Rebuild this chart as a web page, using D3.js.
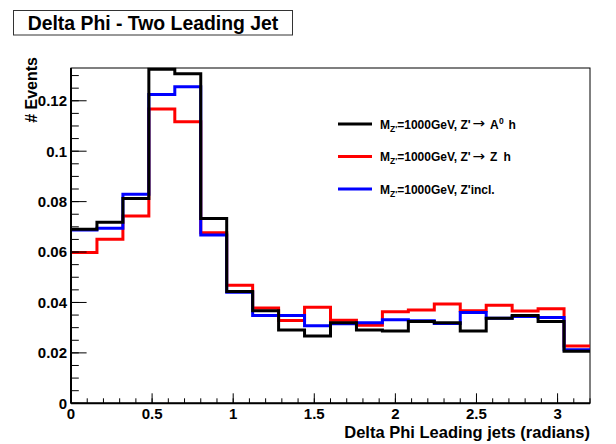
<!DOCTYPE html>
<html><head><meta charset="utf-8">
<script src="https://cdn.jsdelivr.net/npm/d3@7"></script>
<style>
html,body{margin:0;padding:0;background:#fff;}
svg{display:block;font-family:"Liberation Sans",Arial,Helvetica,sans-serif;font-weight:bold;}
</style></head>
<body>
<script>
// ---- data ----
const xMin = 0, xMax = 3.2, nBins = 20;
const blackA0h = [0.0690,0.0718,0.0812,0.1325,0.1307,0.0733,0.0443,0.0367,0.0291,0.0267,
                  0.0320,0.0291,0.0287,0.0324,0.0320,0.0287,0.0337,0.0348,0.0324,0.0206];
const redZh    = [0.0598,0.0651,0.0743,0.1167,0.1117,0.0677,0.0468,0.0378,0.0328,0.0381,
                  0.0329,0.0310,0.0363,0.0370,0.0394,0.0367,0.0389,0.0366,0.0375,0.0227];
const blueIncl = [0.0687,0.0694,0.0829,0.1225,0.1256,0.0668,0.0440,0.0348,0.0348,0.0308,
                  0.0316,0.0320,0.0331,0.0327,0.0317,0.0360,0.0337,0.0344,0.0340,0.0212];
const xTickValues = [0, 0.5, 1, 1.5, 2, 2.5, 3];
const xTickLabels = ["0", "0.5", "1", "1.5", "2", "2.5", "3"];
const yTickValues = [0, 0.02, 0.04, 0.06, 0.08, 0.10, 0.12];
const yTickLabels = ["0", "0.02", "0.04", "0.06", "0.08", "0.1", "0.12"];
const yMax = 0.1330;
const titleText = "Delta Phi - Two Leading Jet";
const xTitle = "Delta Phi Leading jets (radians)";
const yTitle = "# Events";

// ---- layout ----
const W = 616, H = 444;
const L = 71, R = 590, T = 68, B = 403.3;
const svg = d3.select("body").append("svg").attr("width", W).attr("height", H);
svg.append("rect").attr("width", W).attr("height", H).attr("fill", "#fff");

const x = d3.scaleLinear().domain([xMin, xMax]).range([L, R]);
const y = d3.scaleLinear().domain([0, yMax]).range([B, T]);

// title box
svg.append("rect").attr("x", 13.5).attr("y", 10.5).attr("width", 279).attr("height", 24.5)
  .attr("fill", "#fff").attr("stroke", "#333").attr("stroke-width", 1);
svg.append("text").attr("x", 153).attr("y", 29.5).attr("text-anchor", "middle")
  .attr("font-size", 19.4).text(titleText);

// frame
svg.append("rect").attr("x", L).attr("y", T).attr("width", R - L).attr("height", B - T)
  .attr("fill", "none").attr("stroke", "#000").attr("stroke-width", 1);

// histograms
const bw = (xMax - xMin) / nBins;
function stepPts(vals) {
  const pts = [];
  vals.forEach((v, i) => { pts.push([xMin + i * bw, v]); pts.push([xMin + (i + 1) * bw, v]); });
  return pts;
}
const line = d3.line().x(d => x(d[0])).y(d => y(d[1]));
const series = [
  {vals: redZh, color: "#ff0000"},
  {vals: blueIncl, color: "#0000ff"},
  {vals: blackA0h, color: "#000000"}
];
series.forEach(s => {
  svg.append("path").attr("d", line(stepPts(s.vals))).attr("fill", "none")
    .attr("stroke", s.color).attr("stroke-width", 3).attr("stroke-linejoin", "miter");
});

// axes
const gx = svg.append("g").attr("transform", `translate(0,${B})`);
gx.append("line").attr("x1", L).attr("x2", R).attr("stroke", "#000").attr("stroke-width", 2);
const xMinor = d3.range(0, 33).map(i => i * 0.1).filter(v => v <= xMax + 1e-9);
gx.selectAll(".xm").data(xMinor).enter().append("line")
  .attr("x1", d => x(d)).attr("x2", d => x(d)).attr("y1", 0).attr("y2", -5)
  .attr("stroke", "#000").attr("stroke-width", 1);
gx.selectAll(".xM").data(xTickValues).enter().append("line")
  .attr("x1", d => x(d)).attr("x2", d => x(d)).attr("y1", 0).attr("y2", -10)
  .attr("stroke", "#000").attr("stroke-width", 1);
gx.selectAll(".xl").data(xTickValues).enter().append("text")
  .attr("x", d => x(d)).attr("y", 16).attr("text-anchor", "middle").attr("font-size", 15)
  .text((d, i) => xTickLabels[i]);

const gy = svg.append("g").attr("transform", `translate(${L},0)`);
gy.append("line").attr("y1", T).attr("y2", B).attr("stroke", "#000").attr("stroke-width", 2);
const yMinor = d3.range(0, 27).map(i => i * 0.005).filter(v => v <= yMax);
gy.selectAll(".ym").data(yMinor).enter().append("line")
  .attr("y1", d => y(d)).attr("y2", d => y(d)).attr("x1", 0).attr("x2", 7.8)
  .attr("stroke", "#000").attr("stroke-width", 1);
gy.selectAll(".yM").data(yTickValues).enter().append("line")
  .attr("y1", d => y(d)).attr("y2", d => y(d)).attr("x1", 0).attr("x2", 15.6)
  .attr("stroke", "#000").attr("stroke-width", 1);
gy.selectAll(".yl").data(yTickValues).enter().append("text")
  .attr("x", -4).attr("y", d => y(d)).attr("dy", "0.36em").attr("text-anchor", "end")
  .attr("font-size", 15).text((d, i) => yTickLabels[i]);

// axis titles
svg.append("text").attr("x", R).attr("y", 438).attr("text-anchor", "end")
  .attr("font-size", 16.5).text(xTitle);
svg.append("text").attr("transform", `translate(37,57) rotate(-90)`).attr("text-anchor", "end")
  .attr("font-size", 16).text(yTitle);

// legend
const legendColors = ["#000000", "#ff0000", "#0000ff"];
const legendDecay = ["A", "Z", null];
const legendSup = ["0", null, null];
const legY = [124, 156.5, 189];
legendColors.forEach((c, i) => {
  const ly = legY[i];
  svg.append("line").attr("x1", 338).attr("x2", 372).attr("y1", ly).attr("y2", ly)
    .attr("stroke", c).attr("stroke-width", 3);
  const g = svg.append("g").attr("font-size", 12);
  const t = g.append("text").attr("x", 380).attr("y", ly + 4.5);
  t.append("tspan").text("M");
  t.append("tspan").attr("font-size", 8.5).attr("dy", 3).text("Z'");
  if (legendDecay[i] === null) {
    t.append("tspan").attr("dy", -3).text("=1000GeV, Z'incl.");
    return;
  }
  t.append("tspan").attr("dy", -3).text("=1000GeV, Z'");
  // arrow
  g.append("text").attr("x", 472.5).attr("y", ly + 4).attr("font-family", "DejaVu Sans")
    .attr("font-weight", "normal").attr("font-size", 14).attr("textLength", 12.6)
    .attr("lengthAdjust", "spacingAndGlyphs").text("\u2192");
  if (legendSup[i]) {
    g.append("text").attr("x", 490).attr("y", ly + 4.5).text(legendDecay[i]);
    g.append("text").attr("x", 499).attr("y", ly - 0.5).attr("font-size", 8.5).text(legendSup[i]);
    g.append("text").attr("x", 508.5).attr("y", ly + 4.5).text("h");
  } else {
    g.append("text").attr("x", 490).attr("y", ly + 4.5).text(legendDecay[i]);
    g.append("text").attr("x", 503.5).attr("y", ly + 4.5).text("h");
  }
});
</script>
</body></html>
